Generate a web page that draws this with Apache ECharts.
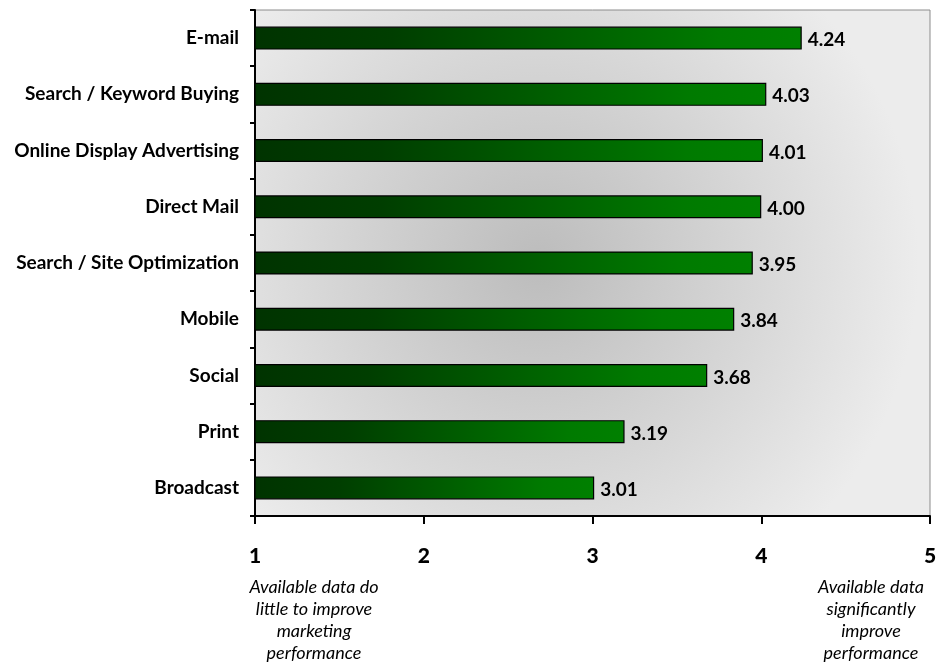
<!DOCTYPE html>
<html><head><meta charset="utf-8">
<script src="https://cdn.jsdelivr.net/npm/echarts@6/dist/echarts.min.js"></script>
<style>html,body{margin:0;padding:0;background:#fff}#c{width:940px;height:665px}</style>
</head><body><div id="c"></div>
<script>
const categories = ["E-mail","Search / Keyword Buying","Online Display Advertising","Direct Mail","Search / Site Optimization","Mobile","Social","Print","Broadcast"];
const values = [4.24,4.03,4.01,4.00,3.95,3.84,3.68,3.19,3.01];
const tickLabels = ["1","2","3","4","5"];
const leftNote = "Available data do\nlittle to improve\nmarketing\nperformance";
const rightNote = "Available data\nsignificantly\nimprove\nperformance";

const chart = echarts.init(document.getElementById('c'));
const font = "Lato, 'Open Sans', sans-serif";
chart.setOption({
  animation:false,
  grid:{left:255,right:10,top:10,bottom:149,show:true,borderColor:'#8c8c8c',borderWidth:1,
    backgroundColor:new echarts.graphic.RadialGradient(0.42,0.5,0.75,[{offset:0,color:'#bcbcbc'},{offset:0.55,color:'#d6d6d6'},{offset:1,color:'#ececec'}])},
  xAxis:{type:'value',min:1,max:5,interval:1,
    axisLine:{show:true,lineStyle:{color:'#000',width:2}},
    axisTick:{show:true,length:8,lineStyle:{color:'#000',width:2}},
    splitLine:{show:false},
    axisLabel:{margin:30,fontFamily:font,fontWeight:900,fontSize:21,color:'#000',
      formatter:v=>tickLabels[Math.round(v)-1]}},
  yAxis:{type:'category',data:categories,inverse:true,
    axisLine:{show:true,lineStyle:{color:'#000',width:2}},
    axisTick:{show:true,length:5,lineStyle:{color:'#000',width:2}},
    axisLabel:{margin:16,fontFamily:font,fontWeight:'bold',fontSize:19,color:'#000'}},
  series:[{type:'bar',data:values,barWidth:23,
    itemStyle:{borderColor:'#000',borderWidth:1.2,
      color:new echarts.graphic.LinearGradient(0,0,1,0,[{offset:0,color:'#003300'},{offset:0.25,color:'#003e00'},{offset:0.85,color:'#007a00'},{offset:1,color:'#008000'}])},
    label:{show:true,position:'right',distance:6,offset:[0,2],fontFamily:font,fontWeight:'bold',fontSize:19,color:'#000',
      formatter:p=>p.value.toFixed(2)}}]
});
const p1 = chart.convertToPixel({xAxisIndex:0},1);
const p5 = chart.convertToPixel({xAxisIndex:0},5);
chart.setOption({graphic:[
  {type:'text',x:p1+59,y:576,style:{text:leftNote,font:"italic 18px "+font,fill:'#000',align:'center',verticalAlign:'top',lineHeight:22}},
  {type:'text',x:p5-59,y:576,style:{text:rightNote,font:"italic 18px "+font,fill:'#000',align:'center',verticalAlign:'top',lineHeight:22}}
]});
</script></body></html>
